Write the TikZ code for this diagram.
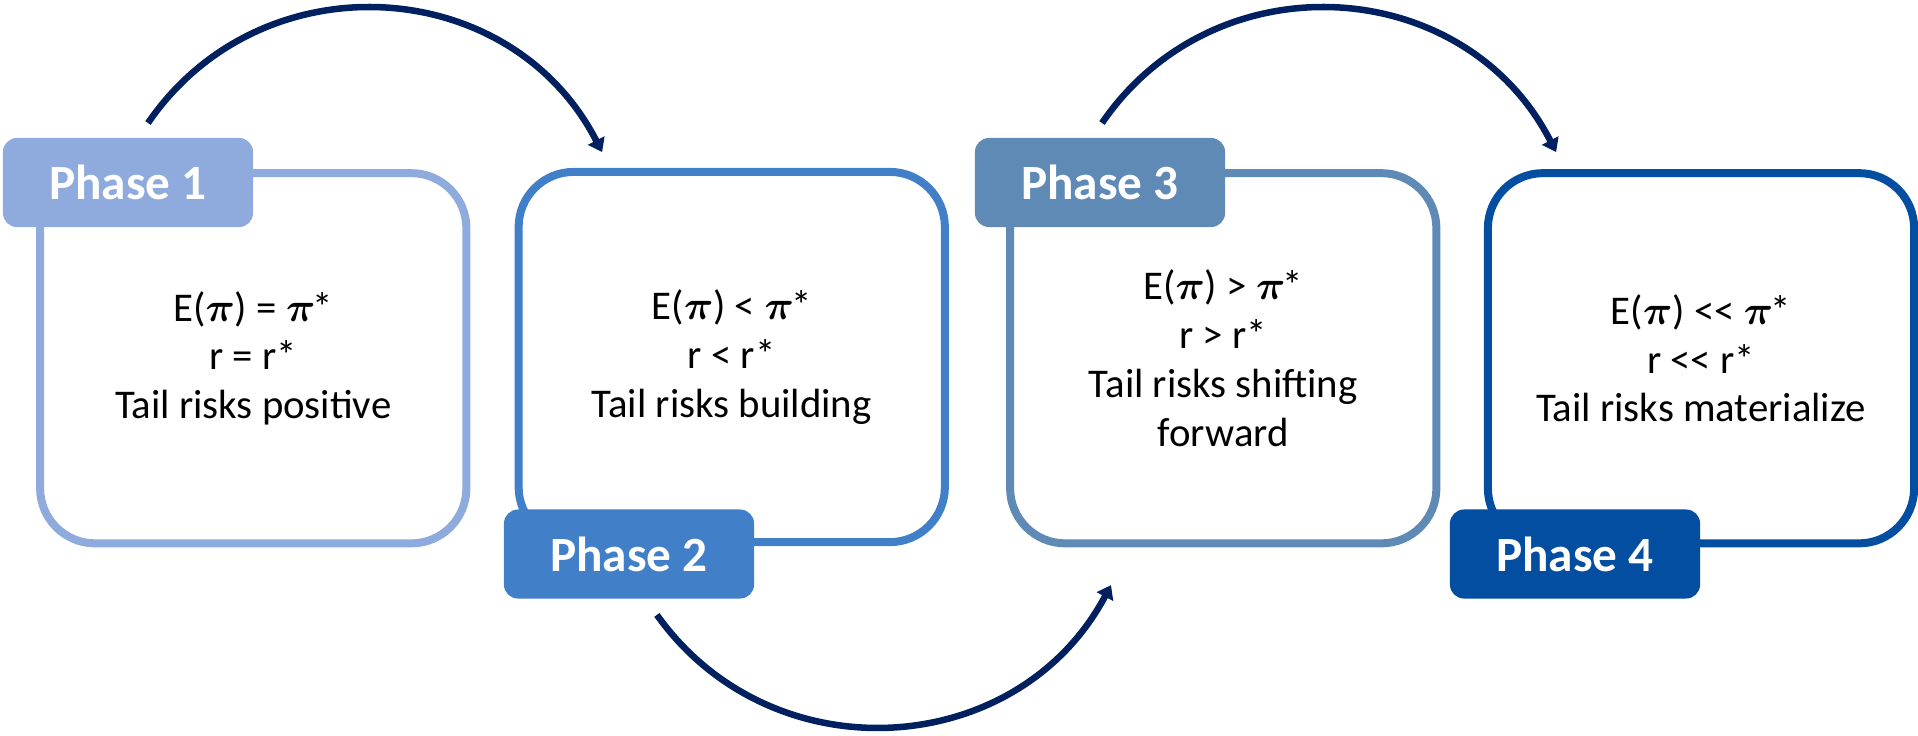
\RequirePackage{fix-cm}
\documentclass[tikz,border=0pt]{standalone}
\usepackage{fontspec}
\setmainfont{Carlito}
\usepackage{bm}
\usetikzlibrary{arrows.meta}
\definecolor{cA}{HTML}{8FAADC}
\definecolor{cB}{HTML}{4180C8}
\definecolor{cC}{HTML}{5F8AB5}
\definecolor{cD}{HTML}{034EA0}
\definecolor{arrowc}{HTML}{002060}
\newcommand{\mypi}{$\bm{\pi}$}
\newcommand{\mypist}{$\bm{\pi}$\kern-0.06em*}
\begin{document}
\begin{tikzpicture}[x=0.01cm,y=0.01cm,
  card/.style={draw=#1, line width=0.08cm, rounded corners=0.55cm,
    minimum width=4.26cm, minimum height=3.70cm, align=center, inner sep=0pt,
    font=\fontsize{11.6}{13.9}\selectfont},
  tab/.style={fill=#1, rounded corners=0.14cm, minimum width=2.5cm,
    minimum height=0.89cm, text=white, inner sep=0pt,
    font=\fontsize{14}{16}\selectfont\bfseries},
  flow/.style={draw=arrowc, line width=0.065cm,
    -{Triangle[length=0.13cm,width=0.18cm]}}]
\useasboundingbox (0,0) rectangle (1918,735);
% boxes
\node[card=cA] (b1) at (253.25,376.75) {E(\mypi) = \mypist\\ r = r*\\ Tail risks positive};
\node[card=cB] (b2) at (731.75,378) {E(\mypi) < \mypist\\ r < r*\\ Tail risks building};
\node[card=cC] (b3) at (1223.25,376.75) {E(\mypi) > \mypist\\ r > r*\\ Tail risks shifting\\ forward};
\node[card=cD] (b4) at (1701,376.75) {E(\mypi) <{}< \mypist\\ r <{}< r*\\ Tail risks materialize};
% tabs
\node[tab=cA] (t1) at (128,552.5) {Phase 1};
\node[tab=cB] (t2) at (629,181) {Phase 2};
\node[tab=cC] (t3) at (1100,552.5) {Phase 3};
\node[tab=cD] (t4) at (1575,181) {Phase 4};
% arrow end points
\coordinate (s1) at (148,612);
\coordinate (e1) at (602.1,582.9);
\coordinate (s2) at (1102,612);
\coordinate (e2) at (1556.1,582.9);
\coordinate (s3) at (656.9,120.1);
\coordinate (e3) at (1111,149.9);
\draw[flow] (s1) to[out=55.6,in=117.1,looseness=1.127] (e1);
\draw[flow] (s2) to[out=55.6,in=117.1,looseness=1.127] (e2);
\draw[flow] (s3) to[out=-54.5,in=-118,looseness=1.116] (e3);
\end{tikzpicture}
\end{document}
